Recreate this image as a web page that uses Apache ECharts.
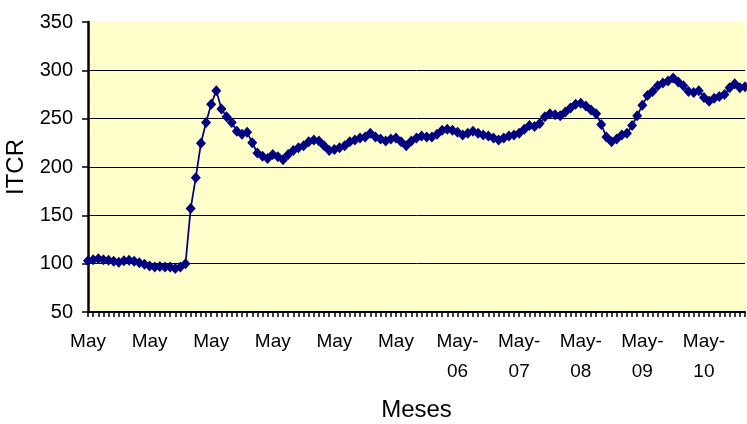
<!DOCTYPE html>
<html>
<head>
<meta charset="utf-8">
<script src="https://cdn.jsdelivr.net/npm/echarts@6/dist/echarts.min.js"></script>
<style>
html,body{margin:0;padding:0;background:#fff;}
#chart{width:747px;height:424px;}
</style>
</head>
<body>
<div id="chart"></div>
<script>
// Monthly categories, May 2000 onward
const monthNames = ['Jan','Feb','Mar','Apr','May','Jun','Jul','Aug','Sep','Oct','Nov','Dec'];
const startYear = 2000;
const startMonth = 4; // May
const itcr = [
  103, 104, 105, 104, 103.5, 102.5, 101.5, 103, 103.5, 102.5, 101, 99.5, 97.5, 96.5, 97, 96.5, 96.5, 95, 96.5, 100,
  157, 189, 224.5, 246, 265, 279,
  260, 252, 246, 237, 234, 236, 225,
  214.5, 211, 208.7, 213, 210.5, 207.6, 213, 217, 220, 222, 226, 228, 227, 222, 217, 218, 220, 222, 226, 228, 230, 231, 235, 231, 229, 227, 229, 230, 226, 222,
  227, 230, 232, 231, 231, 234, 238, 239, 238, 236, 233, 235, 237, 235, 233, 232, 230, 228, 230, 232, 233, 235, 239, 243, 242, 245, 252, 255, 254, 253, 257, 261, 265, 266, 263, 259, 255, 244, 231, 226, 229, 233, 235, 243, 253, 264, 274, 278, 284, 287, 289, 292, 288, 284, 278, 277, 279, 272, 268, 271, 273, 275, 282, 286, 282, 283
];
const categories = itcr.map(function(_, i){
  const m = (startMonth + i) % 12;
  const y = startYear + Math.floor((startMonth + i) / 12);
  return monthNames[m] + '-' + String(y).slice(2);
});
const tickLabels = ['May','May','May','May','May','May','May-\n06','May-\n07','May-\n08','May-\n09','May-\n10'];
const yTicks = [50, 100, 150, 200, 250, 300, 350];

const chart = echarts.init(document.getElementById('chart'), null, {renderer:'canvas'});
chart.setOption({
  animation: false,
  backgroundColor: '#ffffff',
  textStyle: {fontFamily: 'Liberation Sans, Arial, sans-serif'},
  grid: {
    left: 88, right: 2, top: 22, bottom: 112,
    show: true, backgroundColor: '#FFFFCC', borderWidth: 0,
    containLabel: false, outerBoundsMode: 'none'
  },
  xAxis: {
    type: 'category',
    data: categories,
    boundaryGap: false,
    name: 'Meses',
    nameLocation: 'middle',
    nameGap: 86,
    nameTextStyle: {fontSize: 24, color: '#000', fontFamily: 'Liberation Sans, Arial, sans-serif'},
    axisLine: {show: true, lineStyle: {color: '#000', width: 2}},
    axisTick: {show: true, interval: 0, length: 5, inside: false, lineStyle: {color: '#000', width: 1.5}},
    axisLabel: {
      interval: 11,
      margin: 15,
      fontSize: 19,
      lineHeight: 30,
      color: '#000',
      formatter: function(v, idx){ return tickLabels[Math.round(idx/12)] || ''; }
    },
    splitLine: {show: false}
  },
  yAxis: {
    type: 'value',
    min: yTicks[0], max: yTicks[yTicks.length-1], interval: 50,
    name: 'ITCR',
    nameLocation: 'middle',
    nameGap: 52,
    nameRotate: 90,
    nameTextStyle: {fontSize: 24, color: '#000', fontFamily: 'Liberation Sans, Arial, sans-serif'},
    axisLine: {show: true, lineStyle: {color: '#000', width: 2.5}},
    axisTick: {show: true, length: 6, lineStyle: {color: '#000', width: 1.5}},
    axisLabel: {fontSize: 20, color: '#000', margin: 15},
    splitLine: {show: true, lineStyle: {color: ['#000','#000','#000','#000','#000','#000','rgba(0,0,0,0)'], width: 1}}
  },
  series: [{
    type: 'line',
    data: itcr,
    symbol: 'diamond',
    symbolSize: [10, 11],
    showAllSymbol: true,
    itemStyle: {color: '#000080'},
    lineStyle: {color: '#000080', width: 1.75},
    clip: false
  }]
});
</script>
</body>
</html>
